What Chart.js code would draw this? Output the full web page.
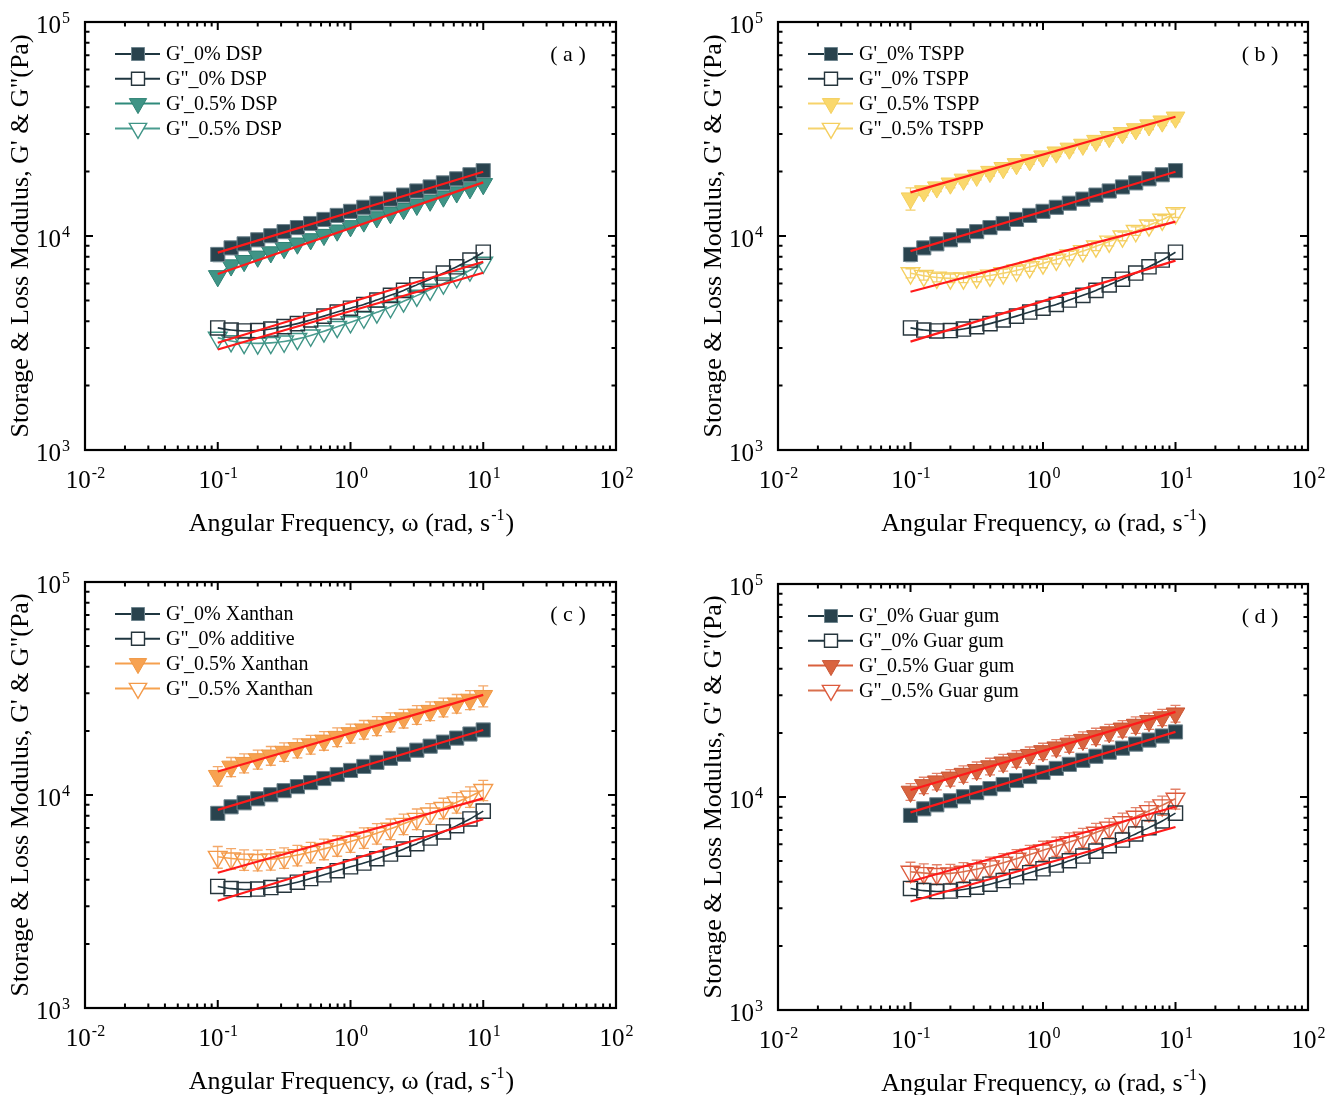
<!DOCTYPE html>
<html>
<head>
<meta charset="utf-8">
<script src="https://cdn.jsdelivr.net/npm/chart.js@4.4.0/dist/chart.umd.min.js"></script>
<style>
body{margin:0;background:#fff;width:1336px;height:1095px;position:relative;overflow:hidden}
canvas{position:absolute}
</style>
</head>
<body>
<canvas id="cnv-a" width="668" height="548" style="left:0;top:0"></canvas>
<canvas id="cnv-b" width="668" height="548" style="left:668px;top:0"></canvas>
<canvas id="cnv-c" width="668" height="547" style="left:0;top:548px"></canvas>
<canvas id="cnv-d" width="668" height="547" style="left:668px;top:548px"></canvas>
<script>
// angular frequency (rad/s)
var freq = [0.1, 0.126, 0.158, 0.2, 0.251, 0.316, 0.398, 0.501, 0.631, 0.794, 1, 1.26, 1.58, 2, 2.51, 3.16, 3.98, 5.01, 6.31, 7.94, 10];

// control sample (0% additive), same in every panel
var gp0  = [8200, 8800, 9190, 9600, 10030, 10480, 10950, 11440, 11950, 12480, 13040, 13620, 14230, 14870, 15530, 16230, 16950, 17710, 18500, 19330, 20200];
var gpp0 = [3720, 3635, 3600, 3617, 3676, 3771, 3896, 4052, 4222, 4411, 4600, 4790, 5020, 5280, 5570, 5910, 6280, 6710, 7180, 7720, 8400];
var errGp0 = [600, 150, 150, 150, 150, 150, 150, 150, 150, 150, 150, 150, 150, 150, 150, 150, 150, 150, 150, 150, 200];

// (a) 0.5% DSP
var gpA  = [6500, 7300, 7650, 8020, 8400, 8800, 9230, 9670, 10130, 10620, 11130, 11710, 12250, 12810, 13390, 14000, 14650, 15310, 16010, 16750, 17500];
var gppA = [3350, 3230, 3170, 3150, 3165, 3216, 3306, 3430, 3586, 3763, 3958, 4163, 4398, 4661, 4951, 5265, 5616, 6006, 6436, 6912, 7510];

// (b) 0.5% TSPP
var gpB  = [15000, 16200, 16890, 17610, 18360, 19140, 19960, 20810, 21690, 22620, 23580, 24590, 25630, 26730, 27860, 29050, 30290, 31580, 32930, 34330, 35800];
var gppB = [6700, 6517, 6398, 6340, 6340, 6414, 6533, 6700, 6903, 7164, 7447, 7762, 8110, 8510, 8948, 9427, 9963, 10557, 11215, 11927, 12780];
var errGpB  = [1800, 750, 780, 800, 830, 860, 890, 930, 970, 1010, 1050, 1090, 1140, 1190, 1240, 1300, 1360, 1420, 1480, 1550, 1650];
var errGppB = [330, 300, 290, 290, 290, 300, 300, 310, 320, 330, 340, 360, 370, 390, 410, 430, 460, 480, 510, 540, 580];

// (c) 0.5% Xanthan
var gpC  = [12300, 13600, 14160, 14740, 15340, 15970, 16630, 17310, 18020, 18760, 19530, 20330, 21160, 22030, 22930, 23870, 24850, 25870, 26930, 28040, 29200];
var gppC = [5130, 5036, 4979, 4956, 4990, 5083, 5225, 5398, 5586, 5797, 6043, 6313, 6615, 6945, 7325, 7735, 8196, 8695, 9240, 9834, 10560];
var errGpC  = [1300, 1400, 1450, 1500, 1550, 1600, 1700, 1750, 1800, 1900, 2000, 2050, 2150, 2250, 2300, 2400, 2500, 2600, 2700, 2850, 3300];
var errGppC = [600, 560, 550, 550, 550, 560, 580, 600, 620, 640, 670, 700, 730, 770, 810, 860, 910, 960, 1020, 1080, 1150];

// (d) 0.5% Guar gum
var gpD  = [10600, 11380, 11850, 12350, 12860, 13400, 13950, 14540, 15140, 15770, 16430, 17110, 17820, 18560, 19330, 20140, 20980, 21850, 22760, 23710, 24700];
var gppD = [4460, 4398, 4358, 4378, 4460, 4585, 4731, 4917, 5135, 5368, 5618, 5869, 6149, 6456, 6806, 7191, 7619, 8084, 8595, 9147, 9822];
var errGpD  = [950, 1000, 1050, 1100, 1150, 1200, 1250, 1300, 1350, 1400, 1450, 1500, 1600, 1650, 1700, 1800, 1850, 1950, 2000, 2100, 2250];
var errGppD = [480, 460, 450, 450, 460, 470, 490, 510, 530, 560, 580, 610, 640, 670, 710, 750, 790, 840, 890, 950, 1050];

// power-law fit lines (values at the two ends of fitX)
var fitX = [0.1, 10];
var fitA = [[8360, 19950], [3170, 7580], [6650, 17800], [2950, 6730]];
var fitB = [[8500, 19950], [3210, 7670], [16000, 36100], [5490, 11680]];
var fitC = [[8510, 20200], [3190, 7700], [12900, 29500], [4315, 9640]];
var fitD = [[8470, 20230], [3230, 7230], [10790, 25100], [4010, 9000]];

// axis ticks
var xTicks = [0.01, 0.1, 1, 10, 100];
var xTickExp = ['-2', '-1', '0', '1', '2'];
var yTicks = [1000, 10000, 100000];
var yTickExp = ['3', '4', '5'];

var serif = "'Liberation Serif', 'Times New Roman', serif";
var DARK = '#29434e', DARKLINE = '#1f3640';
var SQ_R = 10, TRI_R = 10.8;

var toXY = function(xs, ys){
    return xs.map(function(x, i){ return {x: x, y: ys[i]}; });
};

var markerSet = function(label, ys, err, col, edge, lineCol, errCol, shape, filled){
    return {
        label: label,
        data: toXY(freq, ys),
        err: err,
        errColor: errCol,
        showLine: true,
        tension: 0.3,
        borderColor: lineCol,
        borderWidth: 1.6,
        pointStyle: shape === 'tri' ? 'triangle' : 'rect',
        pointRotation: shape === 'tri' ? 180 : 0,
        pointRadius: shape === 'tri' ? TRI_R : SQ_R,
        pointBackgroundColor: filled ? col : 'rgba(255,255,255,0)',
        pointBorderColor: edge,
        pointBorderWidth: filled ? 1 : 1.4,
        legendFill: filled ? col : '#fff',
        legendStroke: edge,
        legendLine: lineCol,
        shape: shape,
        filled: filled
    };
};

var fitSet = function(ends){
    return {
        isFit: true,
        data: toXY(fitX, ends),
        showLine: true,
        borderColor: '#ff1a1a',
        borderWidth: 2.2,
        pointRadius: 0
    };
};

var drawSup = function(ctx, base, sup, x, y, size, align){
    ctx.font = size + 'px ' + serif;
    var w1 = ctx.measureText(base).width;
    ctx.font = Math.round(size * 0.62) + 'px ' + serif;
    var w2 = ctx.measureText(sup).width;
    var x0 = align === 'right' ? x - w1 - w2 : (align === 'left' ? x : x - (w1 + w2) / 2);
    ctx.textAlign = 'left';
    ctx.textBaseline = 'alphabetic';
    ctx.font = size + 'px ' + serif;
    ctx.fillText(base, x0, y);
    ctx.font = Math.round(size * 0.62) + 'px ' + serif;
    ctx.fillText(sup, x0 + w1 + 1, y - size * 0.42);
    return x0 + w1 + w2 + 1;
};

var drawMarker = function(ctx, ds, x, y){
    ctx.save();
    ctx.beginPath();
    if(ds.shape === 'tri'){
        var r = 10;
        ctx.moveTo(x - r * 0.866, y - r * 0.5);
        ctx.lineTo(x + r * 0.866, y - r * 0.5);
        ctx.lineTo(x, y + r);
        ctx.closePath();
    }else{
        ctx.rect(x - 6.5, y - 6.5, 13, 13);
    }
    ctx.fillStyle = ds.legendFill;
    ctx.fill();
    ctx.lineWidth = ds.filled ? 1 : 1.4;
    ctx.strokeStyle = ds.legendStroke;
    ctx.stroke();
    ctx.restore();
};

//--------------------------------------
// Frame, ticks, labels, legend, error bars
//--------------------------------------
var framePlugin = {
    id: 'frame',
    beforeDatasetsDraw: function(chart){
        var ctx = chart.ctx, xs = chart.scales.x, ys = chart.scales.y;
        chart.data.datasets.forEach(function(ds){
            if(!ds.err) return;
            ctx.save();
            ctx.strokeStyle = ds.errColor;
            ctx.lineWidth = 1.3;
            ds.data.forEach(function(p, i){
                var e = ds.err[i];
                var px = xs.getPixelForValue(p.x);
                var y1 = ys.getPixelForValue(p.y + e);
                var y2 = ys.getPixelForValue(Math.max(p.y - e, 1));
                ctx.beginPath();
                ctx.moveTo(px, y1); ctx.lineTo(px, y2);
                ctx.moveTo(px - 5, y1); ctx.lineTo(px + 5, y1);
                ctx.moveTo(px - 5, y2); ctx.lineTo(px + 5, y2);
                ctx.stroke();
            });
            ctx.restore();
        });
    },
    afterDraw: function(chart, args, opts){
        var ctx = chart.ctx, a = chart.chartArea;
        var xs = chart.scales.x, ys = chart.scales.y;
        ctx.save();
        ctx.fillStyle = '#000';
        ctx.strokeStyle = '#000';

        // box
        ctx.lineWidth = 2.2;
        ctx.strokeRect(a.left, a.top, a.right - a.left, a.bottom - a.top);

        // ticks (inward, all four sides)
        ctx.lineWidth = 2;
        ctx.beginPath();
        var d, m, px, py, len;
        for(d = -2; d < 3; d++){
            for(m = 1; m < 10; m++){
                if(d === 2 && m > 1) break;
                px = xs.getPixelForValue(m * Math.pow(10, d));
                len = m === 1 ? 8 : 4.5;
                ctx.moveTo(px, a.bottom); ctx.lineTo(px, a.bottom - len);
                ctx.moveTo(px, a.top); ctx.lineTo(px, a.top + len);
            }
        }
        for(d = 3; d < 6; d++){
            for(m = 1; m < 10; m++){
                if(d === 5 && m > 1) break;
                py = ys.getPixelForValue(m * Math.pow(10, d));
                len = m === 1 ? 8 : 4.5;
                ctx.moveTo(a.left, py); ctx.lineTo(a.left + len, py);
                ctx.moveTo(a.right, py); ctx.lineTo(a.right - len, py);
            }
        }
        ctx.stroke();

        // tick labels
        xTicks.forEach(function(v, i){
            drawSup(ctx, '10', xTickExp[i], xs.getPixelForValue(v), a.bottom + 38, 25, 'center');
        });
        yTicks.forEach(function(v, i){
            drawSup(ctx, '10', yTickExp[i], a.left - 16, ys.getPixelForValue(v) + 11, 25, 'right');
        });

        // x title
        ctx.font = '26px ' + serif;
        var t1 = 'Angular Frequency, \u03c9 (rad, s';
        var w1 = ctx.measureText(t1).width;
        ctx.font = '16px ' + serif;
        var w2 = ctx.measureText('-1').width;
        ctx.font = '26px ' + serif;
        var w3 = ctx.measureText(')').width;
        var cx = (a.left + a.right) / 2;
        var endX = drawSup(ctx, t1, '-1', cx - (w1 + w2 + w3) / 2, a.bottom + 81, 26, 'left');
        ctx.font = '26px ' + serif;
        ctx.fillText(')', endX + 1, a.bottom + 81);

        // y title
        ctx.save();
        ctx.translate(a.left - 57, (a.top + a.bottom) / 2);
        ctx.rotate(-Math.PI / 2);
        ctx.textAlign = 'center';
        ctx.textBaseline = 'alphabetic';
        ctx.font = '26px ' + serif;
        ctx.fillText('Storage & Loss Modulus, G\' & G"(Pa)', 0, 0);
        ctx.restore();

        // panel tag
        ctx.font = '22px ' + serif;
        ctx.textAlign = 'center';
        ctx.textBaseline = 'middle';
        ctx.fillText(opts.tag, a.right - 48, a.top + 33);

        // legend
        var lx = a.left + 30, ly = a.top + 32;
        chart.data.datasets.filter(function(ds){ return !ds.isFit; }).forEach(function(ds, i){
            var y = ly + i * 24.8;
            ctx.strokeStyle = ds.legendLine;
            ctx.lineWidth = 2;
            ctx.beginPath();
            ctx.moveTo(lx, y); ctx.lineTo(lx + 45, y);
            ctx.stroke();
            drawMarker(ctx, ds, lx + 23, y);
            ctx.fillStyle = '#000';
            ctx.font = '20px ' + serif;
            ctx.textAlign = 'left';
            ctx.textBaseline = 'middle';
            ctx.fillText(ds.label, lx + 51, y + 1);
        });
        ctx.restore();
    }
};

var makePanel = function(id, pos, tag, sets, fits){
    var cnv = document.getElementById(id);
    var datasets = fits.map(fitSet).concat(sets);
    return new Chart(cnv, {
        type: 'scatter',
        data: {datasets: datasets},
        options: {
            responsive: false,
            animation: false,
            devicePixelRatio: 1,
            events: [],
            layout: {padding: {left: 0, top: pos.T, right: cnv.width - pos.R, bottom: 0}},
            plugins: {legend: {display: false}, tooltip: {enabled: false}, frame: {tag: tag}},
            scales: {
                x: {
                    type: 'logarithmic', min: 0.01, max: 100,
                    grid: {display: false}, border: {display: false}, ticks: {display: false},
                    afterFit: function(s){ s.height = cnv.height - pos.B; }
                },
                y: {
                    type: 'logarithmic', min: 1000, max: 100000,
                    grid: {display: false}, border: {display: false}, ticks: {display: false},
                    afterFit: function(s){ s.width = pos.L; }
                }
            }
        },
        plugins: [framePlugin]
    });
};

var base0 = function(name1, name2){
    return [
        markerSet(name1, gp0, errGp0, DARK, '#6f858e', DARKLINE, '#55707a', 'sq', true),
        markerSet(name2, gpp0, null, '#fff', '#26353c', DARKLINE, null, 'sq', false)
    ];
};

makePanel('cnv-a', {L: 85, R: 616, T: 22, B: 450}, '( a )',
    base0('G\'_0% DSP', 'G"_0% DSP').concat([
        markerSet('G\'_0.5% DSP', gpA, null, '#3f9486', '#2f8274', '#2f8a7b', null, 'tri', true),
        markerSet('G"_0.5% DSP', gppA, null, '#fff', '#3f9486', '#4a9c8f', null, 'tri', false)
    ]), fitA);

makePanel('cnv-b', {L: 110, R: 640, T: 22, B: 450}, '( b )',
    base0('G\'_0% TSPP', 'G"_0% TSPP').concat([
        markerSet('G\'_0.5% TSPP', gpB, errGpB, '#fad86c', '#f3cf5e', '#f7d36a', '#f3cf6a', 'tri', true),
        markerSet('G"_0.5% TSPP', gppB, errGppB, '#fff', '#f5cf5e', '#f5d36e', '#f3cf6a', 'tri', false)
    ]), fitB);

makePanel('cnv-c', {L: 85, R: 616, T: 34, B: 460}, '( c )',
    base0('G\'_0% Xanthan', 'G"_0% additive').concat([
        markerSet('G\'_0.5% Xanthan', gpC, errGpC, '#f7a251', '#ef9743', '#f5a04e', '#f4a869', 'tri', true),
        markerSet('G"_0.5% Xanthan', gppC, errGppC, '#fff', '#f39a4a', '#f6a24f', '#f4a869', 'tri', false)
    ]), fitC);

makePanel('cnv-d', {L: 110, R: 640, T: 36, B: 462}, '( d )',
    base0('G\'_0% Guar gum', 'G"_0% Guar gum').concat([
        markerSet('G\'_0.5% Guar gum', gpD, errGpD, '#d9643f', '#c95534', '#d9603d', '#e3826a', 'tri', true),
        markerSet('G"_0.5% Guar gum', gppD, errGppD, '#fff', '#dd5a3c', '#d9704e', '#e3826a', 'tri', false)
    ]), fitD);
</script>
</body>
</html>
